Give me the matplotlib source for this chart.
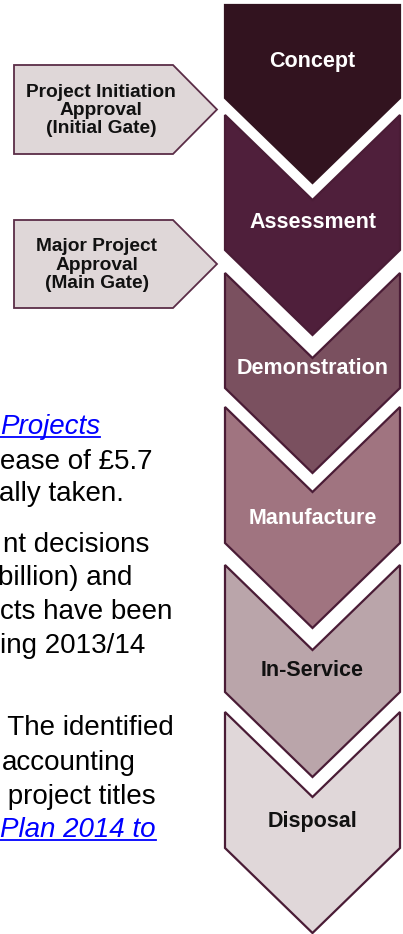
import matplotlib
matplotlib.use("Agg")
import matplotlib.pyplot as plt
from matplotlib.patches import Polygon
from matplotlib.lines import Line2D

# ---- content ----
stages = ["Concept", "Assessment", "Demonstration", "Manufacture", "In-Service", "Disposal"]
stage_colors = ["#32131f", "#4f1f3b", "#7a505f", "#a07480", "#baa5aa", "#e0d7d9"]
stage_text_colors = ["white", "white", "white", "white", "#111111", "#111111"]
gates = ["Project Initiation\nApproval\n(Initial Gate)", "Major Project\nApproval\n(Main Gate)"]
body_lines = ["Projects", "ease of £5.7", "ally taken.",
              "nt decisions", "billion) and", "cts have been", "ing 2013/14",
              " The identified", "accounting", " project titles", "Plan 2014 to"]
body_links = [True, False, False, False, False, False, False, False, False, False, True]

# ---- layout (pixel coordinates) ----
W, H = 403, 934
col_l, col_r = 225, 400
col_c = (col_l + col_r) / 2
depth = 85
chev_top = [5, 115, 273, 407, 565, 712]
chev_bot = [98, 250, 388, 543, 692, 848]
label_y = [62, 222, 368, 518, 670, 822]
gate_top = [65, 220]
gate_bot = [154, 308]
gate_text_x = [101, 97]
body_y = [427, 462, 494, 545, 578, 612, 646, 728, 763, 797, 830]
body_x = [0, 0, -1, 3, -2, 0, 0, 0, 2, 0, 0]

fig = plt.figure(figsize=(W / 100, H / 100), dpi=100)
ax = fig.add_axes([0, 0, 1, 1])
ax.set_xlim(0, W)
ax.set_ylim(H, 0)
ax.axis("off")

edge = "#4a1c36"
for i, name in enumerate(stages):
    t, b = chev_top[i], chev_bot[i]
    if i == 0:
        pts = [(col_l, t), (col_r, t), (col_r, b), (col_c, b + depth), (col_l, b)]
    else:
        pts = [(col_l, t), (col_c, t + depth), (col_r, t), (col_r, b),
               (col_c, b + depth), (col_l, b)]
    ax.add_patch(Polygon(pts, closed=True, facecolor=stage_colors[i],
                         edgecolor=stage_colors[0] if i == 0 else edge,
                         linewidth=1.6, joinstyle="miter"))
    ax.text(col_c, label_y[i], name, ha="center", va="center",
            fontsize=15.5, fontweight="bold", color=stage_text_colors[i],
            family="Liberation Sans")

# gate arrows
for i, g in enumerate(gates):
    t, b = gate_top[i], gate_bot[i]
    m = (t + b) / 2
    pts = [(14, t), (173, t), (217, m), (173, b), (14, b)]
    ax.add_patch(Polygon(pts, closed=True, facecolor="#dfd7d8",
                         edgecolor="#5b2d47", linewidth=1.3, joinstyle="miter"))
    ax.text(gate_text_x[i], m + 1, g, ha="center", va="center",
            fontsize=13.8, fontweight="bold", color="#111111",
            family="Liberation Sans", linespacing=1.08)

# body text (cut off on the left in the original)
texts = []
for s, y, x, link in zip(body_lines, body_y, body_x, body_links):
    tx = ax.text(x, y, s, ha="left", va="center", fontsize=20,
                 color="#0000ff" if link else "black",
                 style="italic" if link else "normal",
                 family="Liberation Sans")
    texts.append((tx, link))

fig.canvas.draw()
r = fig.canvas.get_renderer()
for tx, link in texts:
    if link:
        bb = tx.get_window_extent(r)
        yb = bb.y0 + 3
        fig.add_artist(Line2D([max(bb.x0, 0), bb.x1], [yb, yb],
                              transform=None, color="#0000ff", linewidth=1.3))

fig.savefig("out.png", dpi=100)
